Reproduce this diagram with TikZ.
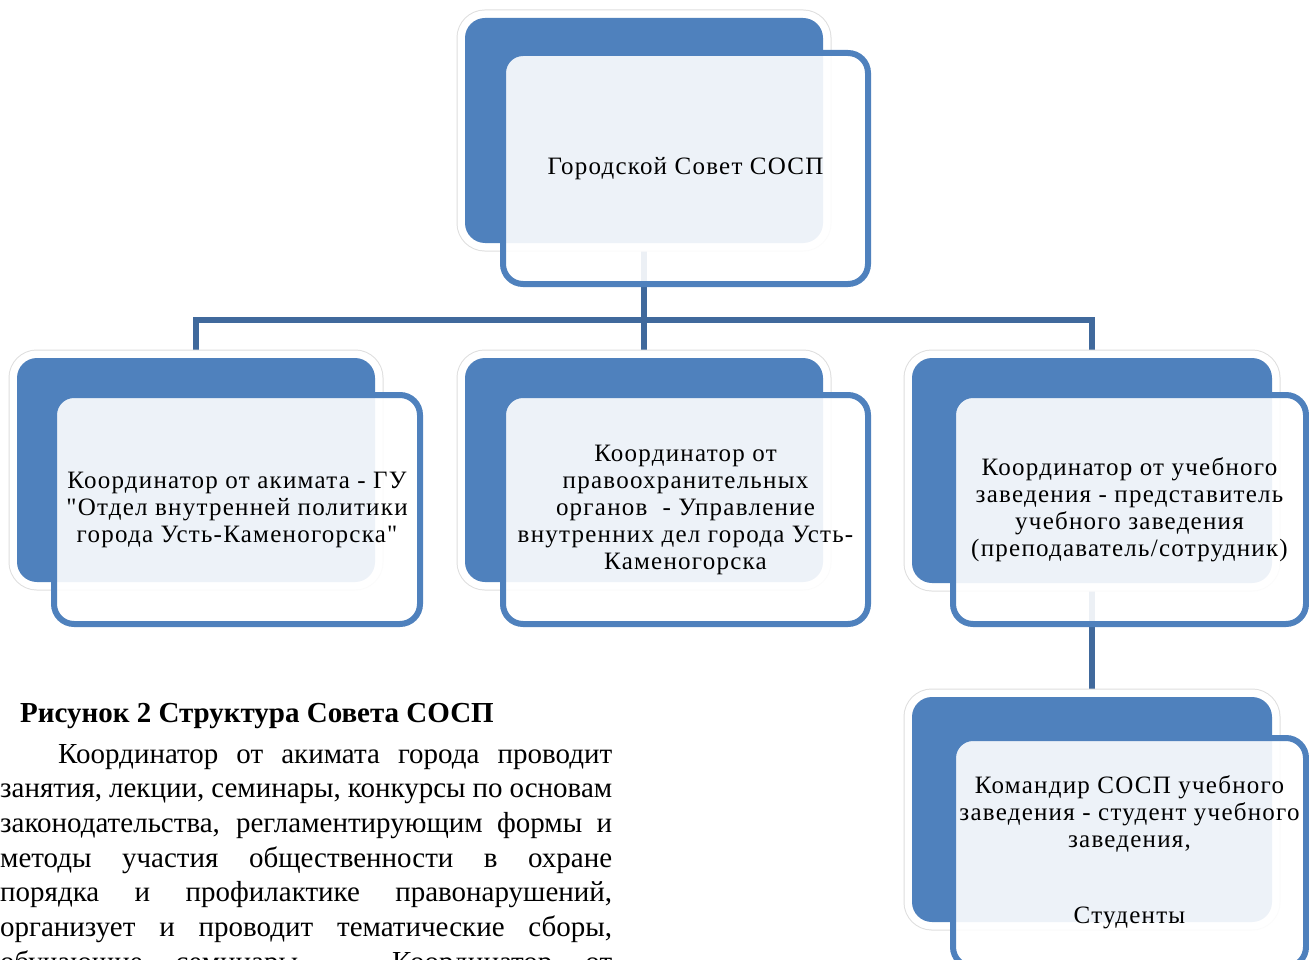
\documentclass[tikz,border=0pt]{standalone}
\usepackage{fontspec}
\setmainfont{Liberation Serif}
\newfontfamily\boxfont[LetterSpace=5]{Liberation Serif}
\usetikzlibrary{calc}
\definecolor{accblue}{HTML}{4F81BD}
\definecolor{connblue}{HTML}{40699C}
\pgfdeclarelayer{bg}
\pgfsetlayers{bg,main}
\begin{document}
\begin{tikzpicture}[x=1pt,y=-1pt,
  backbox/.style={rectangle, rounded corners=20pt, inner sep=0pt, outer sep=0pt, fill=accblue,
    preaction={draw=black!13, line width=17pt}, preaction={draw=white, line width=15pt}},
  frontbox/.style={rectangle, rounded corners=20pt, inner sep=0pt, outer sep=0pt, draw=accblue,
    line width=6pt, fill=white, fill opacity=0.9, text opacity=1, align=center,
    font=\boxfont\fontsize{25}{27}\selectfont},
  conn/.style={draw=connblue, line width=6pt},
  captionline/.style={anchor=base west, inner sep=0pt, font=\bfseries\fontsize{29}{32}\selectfont},
  paraline/.style={anchor=base west, inner sep=0pt, font=\fontsize{29}{34.7}\selectfont}]
\useasboundingbox (0,0) rectangle (1309,960);
\clip (0,0) rectangle (1309,960);

% top unit
\node[backbox, minimum width=358pt, minimum height=225pt] (topback) at (644,130.5) {};
\node[frontbox, minimum width=365pt, minimum height=231pt] (topfront) at (685.5,168.5) {Городской Совет СОСП};

% middle row
\node[backbox, minimum width=358pt, minimum height=224pt] (leftback) at (196,470) {};
\node[frontbox, minimum width=366pt, minimum height=229pt] (leftfront) at (237,509.5)
  {Координатор от акимата - ГУ\\"Отдел внутренней политики\\города Усть-Каменогорска"};

\node[backbox, minimum width=358pt, minimum height=224pt] (midback) at (644,470) {};
\node[frontbox, minimum width=365pt, minimum height=229pt] (midfront) at (685.5,509.5)
  {Координатор от\\правоохранительных\\органов~ - Управление\\внутренних дел города Усть-\\Каменогорска};

\node[backbox, minimum width=360pt, minimum height=225pt] (rightback) at (1092,470.5) {};
\node[frontbox, minimum width=353pt, minimum height=229pt] (rightfront) at (1129.5,509.5)
  {Координатор от учебного\\заведения - представитель\\учебного заведения\\(преподаватель/сотрудник)};

% bottom unit
\node[backbox, minimum width=360pt, minimum height=225pt] (botback) at (1092,809.5) {};
\node[frontbox, minimum width=353pt, minimum height=229pt] (botfront) at (1129.5,852.5)
  {Командир СОСП учебного\\заведения - студент учебного\\заведения,\\[49pt]Студенты};

% connectors
\coordinate (bus) at (644,320);
\begin{pgfonlayer}{bg}
  \draw[conn] (topback.south) -- (bus);
  \draw[conn] (bus) -- (midback.north);
  \draw[conn] (bus) -| (leftback.north);
  \draw[conn] (bus) -| (rightback.north);
  \draw[conn] (rightback.south) -- (botback.north);
\end{pgfonlayer}

% caption and text
\node[captionline] (cap) at (20,722) {Рисунок 2 Структура Совета СОСП};
\node[paraline] (p1) at (58,763) {\makebox[554pt][s]{Координатор от акимата города проводит}};
\node[paraline] (p2) at (0,797.7) {\makebox[612pt][s]{занятия, лекции, семинары, конкурсы по основам}};
\node[paraline] (p3) at (0,832.4) {\makebox[612pt][s]{законодательства, регламентирующим формы и}};
\node[paraline] (p4) at (0,867.1) {\makebox[612pt][s]{методы участия общественности в охране}};
\node[paraline] (p5) at (0,901.8) {\makebox[612pt][s]{порядка и профилактике правонарушений,}};
\node[paraline] (p6) at (0,936.5) {\makebox[612pt][s]{организует и проводит тематические сборы,}};
\node[paraline] (p7) at (0,971.2) {\makebox[612pt][s]{обучающие семинары. Координатор от}};
\end{tikzpicture}
\end{document}
